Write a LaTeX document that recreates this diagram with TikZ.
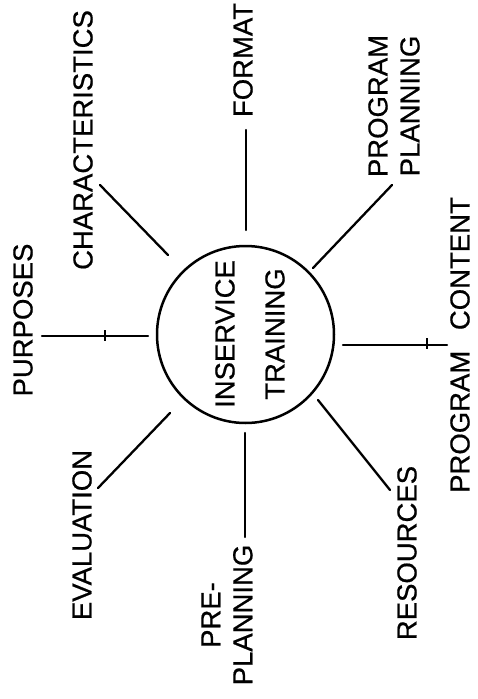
\documentclass[tikz,border=0pt]{standalone}
\usepackage{fontspec}
\setmainfont{Liberation Sans}[FakeBold=0.6]
\begin{document}
\begin{tikzpicture}[x=1pt,y=-1pt,
  lab/.style={rotate=90,inner sep=0pt,align=center,font=\fontsize{27.5}{32}\selectfont},
  spoke/.style={line width=2.3pt,line cap=round},
  tick/.style={line width=1.2pt}]
\useasboundingbox (0,0) rectangle (477,699);
% hub
\node[circle,draw,line width=2.5pt,minimum size=177pt,inner sep=0pt] (hub) at (245.5,334.5) {};
\node[lab,font=\fontsize{27.5}{50}\selectfont] (hubtext) at (250,334) {INSERVICE\\TRAINING};
% labels
\node[lab] (charlab) at (83,140) {CHARACTERISTICS};
\node[lab] (formlab) at (243,60) {FORMAT};
\node[lab] (pplab) at (394,106) {PROGRAM\\PLANNING};
\node[lab] (pclab) at (460,345) {PROGRAM\hspace{0.75em}CONTENT};
\node[lab] (reslab) at (407,553) {RESOURCES};
\node[lab] (prelab) at (227,615) {PRE-\\PLANNING};
\node[lab] (evallab) at (82,535) {EVALUATION};
\node[lab] (purlab) at (23,320) {PURPOSES};
% spoke ends
\coordinate (charO) at (100,185); \coordinate (charI) at (168,255);
\coordinate (formO) at (245.7,130); \coordinate (formI) at (245.7,230);
\coordinate (ppO) at (392,185); \coordinate (ppI) at (313,268);
\coordinate (pcO) at (447,345); \coordinate (pcI) at (343,345);
\coordinate (resO) at (390,490); \coordinate (resI) at (318,400);
\coordinate (preO) at (245,537); \coordinate (preI) at (245,433);
\coordinate (evalO) at (98,488); \coordinate (evalI) at (170,413);
\coordinate (purO) at (42,336); \coordinate (purI) at (148,336);
\coordinate (pcT1) at (427,338); \coordinate (pcT2) at (427,349);
\coordinate (purT1) at (105,330); \coordinate (purT2) at (105,341);
% spokes
\draw[spoke] (charO) -- (charI);
\draw[spoke] (formO) -- (formI);
\draw[spoke] (ppO) -- (ppI);
\draw[spoke] (pcO) -- (pcI);
\draw[spoke] (resO) -- (resI);
\draw[spoke] (preO) -- (preI);
\draw[spoke] (evalO) -- (evalI);
\draw[spoke] (purO) -- (purI);
\draw[tick] (pcT1) -- (pcT2);
\draw[tick] (purT1) -- (purT2);
\end{tikzpicture}
\end{document}
